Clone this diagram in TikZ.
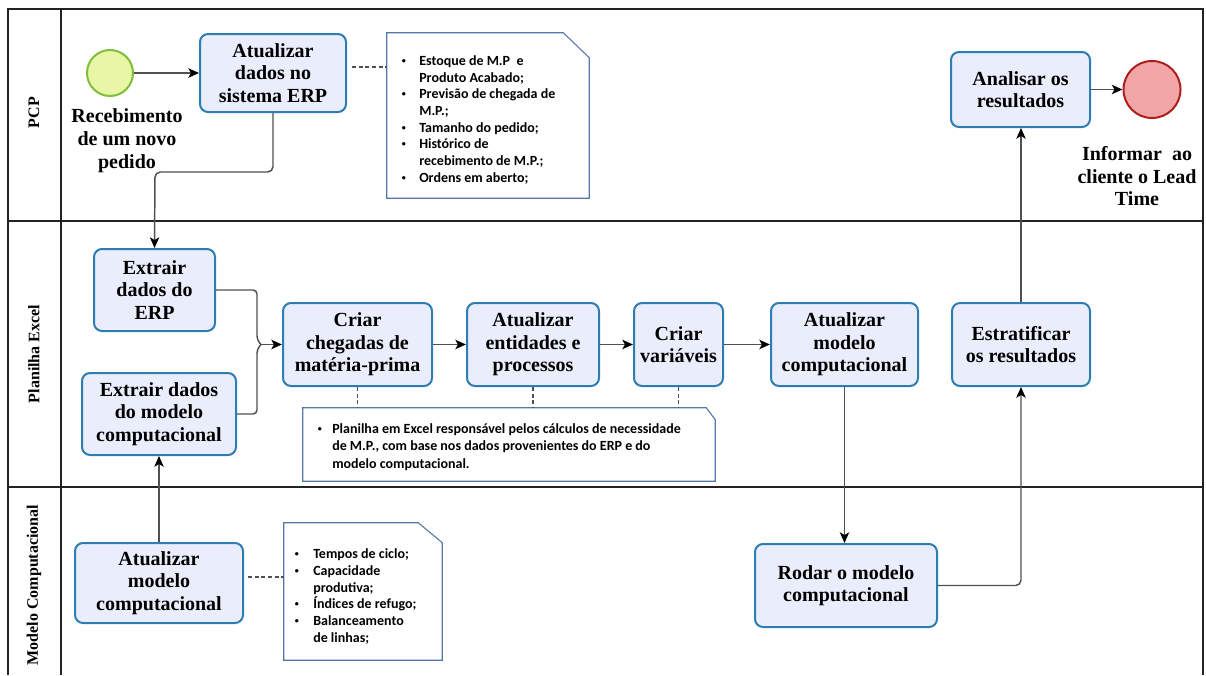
\documentclass[tikz,border=0pt]{standalone}
\usepackage{fontspec}
\setmainfont{Liberation Serif}
\newfontfamily\labelfont{Liberation Serif}
\newfontfamily\notefont{Carlito}
\usetikzlibrary{arrows.meta,calc}

\newdimen\pxu \pxu=0.75pt
\newdimen\bw
\newcommand\itm{\makebox[\bw][l]{\hspace{1.2pt}\raisebox{1.6pt}{\fontsize{6}{6}\selectfont\textbullet}}}
\newcommand\cnt{\hspace*{\bw}}

\definecolor{taskfill}{RGB}{234,238,252}
\definecolor{taskdraw}{RGB}{46,125,178}
\definecolor{notedraw}{RGB}{84,120,170}
\definecolor{startfill}{RGB}{232,246,165}
\definecolor{startdraw}{RGB}{126,190,60}
\definecolor{endfill}{RGB}{240,166,166}
\definecolor{enddraw}{RGB}{175,30,30}
\definecolor{linecol}{RGB}{80,80,80}
\definecolor{framecol}{RGB}{35,35,35}

\newcommand\tasktext{\labelfont\bfseries\fontsize{15}{16.9}\selectfont}
\newcommand\eventtext{\labelfont\bfseries\fontsize{15}{17.25}\selectfont}
\newcommand\finaltext{\labelfont\bfseries\fontsize{15}{16.9}\selectfont}
\newcommand\lanetext{\labelfont\bfseries\fontsize{12}{14}\selectfont}
\newcommand\notetext{\notefont\bfseries\fontsize{10.5}{12.5}\selectfont}

\tikzset{
  task/.style={rectangle, rounded corners=6pt, draw=taskdraw, fill=taskfill,
    line width=1.5pt, align=center, font=\tasktext, inner sep=0pt},
  notebox/.style={rectangle, inner sep=0pt},
  notetxt/.style={anchor=base west, inner sep=0pt, font=\notetext},
  lanelabel/.style={rotate=90, font=\lanetext, inner sep=0pt},
  eventlabel/.style={align=center, font=\eventtext, inner sep=0pt},
  frame/.style={draw=framecol, line width=1.5pt},
  line/.style={draw=linecol, line width=1.1pt},
  flow/.style={line, -{Stealth[length=8pt,width=7pt,inset=2pt,color=black]}},
  assoc/.style={draw=linecol, line width=0.8pt, dash pattern=on 3pt off 2pt},
  notepath/.style={draw=notedraw, line width=0.8pt}
}

\begin{document}
\begin{tikzpicture}[x=0.75pt, y=-0.75pt]
\useasboundingbox (0,0) rectangle (1206,675);

% pool and lanes
\draw[frame] (8,675) -- (8,9) -- (1203,9) -- (1203,675);
\draw[frame] (8,221) -- (1203,221);
\draw[frame] (8,487) -- (1203,487);
\draw[frame] (61,9) -- (61,675);

\node[lanelabel] (lanepcp) at (34,112.5) {PCP};
\node[lanelabel] (laneexcel) at (34,354) {Planilha Excel};
\node[lanelabel] (lanemodel) at (34,585) {Modelo Computacional};

% events
\node[circle, draw=startdraw, fill=startfill, line width=1.5pt, minimum size=46\pxu, inner sep=0pt] (start) at (110,73) {};
\node[eventlabel] (startlbl) at (127,141) {Recebimento\\de um novo\\pedido};
\node[circle, draw=enddraw, fill=endfill, line width=1.5pt, minimum size=57\pxu, inner sep=0pt] (endev) at (1152,89.5) {};
\node[eventlabel, font=\finaltext] (endlbl) at (1137,176.5) {Informar\ \ ao\\cliente o Lead\\Time};

% tasks
\node[task, minimum width=146\pxu, minimum height=78\pxu] (erp1) at (273,73) {Atualizar\\dados no\\sistema ERP};
\node[task, minimum width=139\pxu, minimum height=75\pxu] (anal) at (1020.5,89.5) {Analisar os\\resultados};
\node[task, minimum width=121\pxu, minimum height=82\pxu] (exerp) at (154.5,290) {Extrair\\dados do\\ERP};
\node[task, minimum width=154\pxu, minimum height=82\pxu] (exmod) at (159,414) {Extrair dados\\do modelo\\computacional};
\node[task, minimum width=149\pxu, minimum height=83\pxu] (criar) at (357.5,344.5) {Criar\\chegadas de\\matéria-prima};
\node[task, minimum width=132\pxu, minimum height=83\pxu] (atent) at (533,344.5) {Atualizar\\entidades e\\processos};
\node[task, minimum width=89\pxu, minimum height=83\pxu] (crvar) at (678.5,344.5) {Criar\\variáveis};
\node[task, minimum width=147\pxu, minimum height=83\pxu] (atmod) at (844.5,344.5) {Atualizar\\modelo\\computacional};
\node[task, minimum width=138\pxu, minimum height=83\pxu] (estr) at (1021,344.5) {Estratificar\\os resultados};
\node[task, minimum width=182\pxu, minimum height=83\pxu] (rodar) at (846,585.5) {Rodar o modelo\\computacional};
\node[task, minimum width=168\pxu, minimum height=80\pxu] (atmodb) at (159,583) {Atualizar\\modelo\\computacional};

% annotations
\node[notebox, minimum width=202\pxu, minimum height=165\pxu] (note1) at (488,115.5) {};
\draw[notepath] (note1.south west) -- (note1.north west) -- ([xshift=-26\pxu]note1.north east)
  -- ([yshift=-25\pxu]note1.north east) -- (note1.south east) -- cycle;
\node[notetxt] (note1txt) at (400,65.5) {\setlength\bw{19\pxu}%
  \begin{tabular}[t]{@{}l@{}}
  \itm Estoque de M.P\ \ e\\
  \cnt Produto Acabado;\\
  \itm Previsão de chegada de\\
  \cnt M.P.;\\
  \itm Tamanho do pedido;\\
  \itm Histórico de\\
  \cnt recebimento de M.P.;\\
  \itm Ordens em aberto;
  \end{tabular}};

\node[notebox, minimum width=412\pxu, minimum height=73\pxu] (note2) at (509,444.5) {};
\draw[notepath] (note2.south west) -- (note2.north west) -- ([xshift=-9\pxu]note2.north east)
  -- ([yshift=-12\pxu]note2.north east) -- (note2.south east) -- cycle;
\node[notetxt, font=\notefont\bfseries\fontsize{10.5}{13.1}\selectfont] (note2txt) at (316,433.5) {\setlength\bw{16\pxu}%
  \begin{tabular}[t]{@{}l@{}}
  \itm Planilha em Excel responsável pelos cálculos de necessidade\\
  \cnt de M.P., com base nos dados provenientes do ERP e do\\
  \cnt modelo computacional.
  \end{tabular}};

\node[notebox, minimum width=158\pxu, minimum height=137\pxu] (note3) at (363,591.5) {};
\draw[notepath] (note3.south west) -- (note3.north west) -- ([xshift=-24\pxu]note3.north east)
  -- ([yshift=-20\pxu]note3.north east) -- (note3.south east) -- cycle;
\node[notetxt, font=\notefont\bfseries\fontsize{10.5}{12.6}\selectfont] (note3txt) at (293,558.5) {\setlength\bw{20\pxu}%
  \begin{tabular}[t]{@{}l@{}}
  \itm Tempos de ciclo;\\
  \itm Capacidade\\
  \cnt produtiva;\\
  \itm Índices de refugo;\\
  \itm Balanceamento\\
  \cnt de linhas;
  \end{tabular}};

% sequence flows
\coordinate (bend1) at (155,172);
\coordinate (jointop) at (257,340);
\coordinate (joinbot) at (257,349);
\coordinate (join) at (261,344.5);
\draw[flow] (start) -- (erp1);
\draw[flow, rounded corners=4pt] (erp1.south) |- (bend1) -- (exerp.north);
\draw[line, rounded corners=3pt] (exerp.east) -| (jointop) -- (join);
\draw[line, rounded corners=3pt] (exmod.east) -| (joinbot) -- (join);
\draw[flow] (join) -- (criar.west);
\draw[flow] (criar) -- (atent);
\draw[flow] (atent) -- (crvar);
\draw[flow] (crvar) -- (atmod);
\draw[flow] (atmod.south) -- (atmod.south |- rodar.north);
\draw[flow, rounded corners=4pt] (rodar.east) -| (estr.south);
\draw[flow] (estr.north) -- (estr.north |- anal.south);
\draw[flow] (anal) -- (endev);
\draw[flow] (atmodb.north) -- (exmod.south);

% associations
\draw[assoc] ($(erp1.east)+(5,-6)$) -- ($(note1.west |- erp1.east)+(0,-6)$);
\draw[assoc] (criar.south) -- (criar.south |- note2.north);
\draw[assoc] (atent.south) -- (atent.south |- note2.north);
\draw[assoc] (crvar.south) -- (crvar.south |- note2.north);
\draw[assoc] ($(atmodb.east)+(4,-6)$) -- ($(note3.west |- atmodb.east)+(0,-6)$);
\end{tikzpicture}
\end{document}
